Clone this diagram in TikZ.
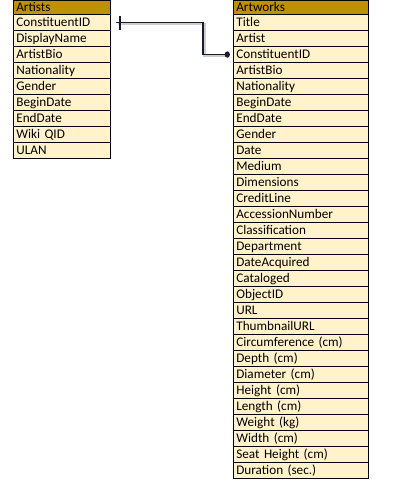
\documentclass[tikz,border=0pt]{standalone}
\usepackage{fontspec}
\setmainfont{Carlito}
\definecolor{hdrgold}{HTML}{BF9000}
\definecolor{rowcream}{HTML}{FFF2CC}
\definecolor{linkcol}{HTML}{1A1A2E}
\begin{document}
\begin{tikzpicture}[x=1bp,y=-1bp,
  cell/.style={draw=black,line width=1.1bp,anchor=north west,inner xsep=2.5bp,inner ysep=0pt,
    align=left,text height=9.5bp,text depth=2.5bp,font=\fontsize{13.2bp}{16bp}\selectfont},
  hdrcell/.style={cell,fill=hdrgold,minimum height=14bp},
  rowcell/.style={cell,fill=rowcream,minimum height=16bp},
  link/.style={draw=linkcol,line width=1.3bp},
  linkshadow/.style={draw=black!35,line width=2.2bp,opacity=0.55}]
\useasboundingbox (0,0) rectangle (410,499);
% Artists table
\node[hdrcell,text width=92bp] (ah) at (13.3,0) {Artists};
\foreach \t [count=\i] in {ConstituentID,DisplayName,ArtistBio,Nationality,Gender,BeginDate,EndDate,Wiki QID,ULAN}{
  \node[rowcell,text width=92bp] (ar\i) at (13.3,{14+16*(\i-1)}) {\t};
}
% Artworks table
\node[hdrcell,text width=130bp] (wh) at (233.3,0) {Artworks};
\foreach \t [count=\i] in {Title,Artist,ConstituentID,ArtistBio,Nationality,BeginDate,EndDate,Gender,Date,Medium,Dimensions,CreditLine,AccessionNumber,Classification,Department,DateAcquired,Cataloged,ObjectID,URL,ThumbnailURL,Circumference (cm),Depth (cm),Diameter (cm),Height (cm),Length (cm),Weight (kg),Width (cm),Seat Height (cm),Duration (sec.)}{
  \node[rowcell,text width=130bp] (wr\i) at (233.3,{14+16*(\i-1)}) {\t};
}
% connector shadow
\draw[linkshadow] ([xshift=6.5bp,yshift=-1.8bp]ar1.east) -- ++(86.5,0) |- ([xshift=-4bp,yshift=-1.8bp]wr3.west);
% connector
\coordinate (cstart) at ([xshift=5bp]ar1.east);
\coordinate (cend) at ([xshift=-5bp]wr3.west);
\draw[link] (cstart) -- ++(86.5,0) |- (cend);
\draw[link] ([xshift=8.5bp,yshift=-7bp]ar1.east) -- ([xshift=8.5bp,yshift=7bp]ar1.east);
\fill[linkcol] ([xshift=-6bp]wr3.west) ellipse (2.6 and 3.2);
\end{tikzpicture}
\end{document}
